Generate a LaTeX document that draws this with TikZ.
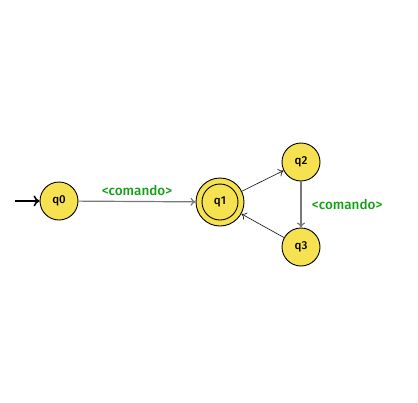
\documentclass[tikz,border=0pt]{standalone}
\usepackage{fontspec}
\setmainfont{Fira Sans}[UprightFont=* Medium]
\usetikzlibrary{arrows.meta}
\definecolor{stfill}{RGB}{246,226,80}
\definecolor{lblgreen}{RGB}{20,160,20}
\definecolor{edgegray}{RGB}{120,120,120}
\tikzset{
  state/.style={circle,draw=black,fill=stfill,line width=0.9pt,minimum size=38pt,inner sep=0pt,font=\fontsize{11.5}{13}\selectfont},
  gedge/.style={draw=edgegray,line width=1.2pt,-{To[length=5pt,width=8pt]}},
  tedge/.style={draw=black!85,line width=0.7pt,-{To[length=5pt,width=8pt]}},
  lbl/.style={text=lblgreen,font=\fontsize{13.5}{15}\selectfont}
}
\begin{document}
\begin{tikzpicture}[x=1pt,y=-1pt]
\useasboundingbox (0,0) rectangle (418,402);
\node[state] (q0) at (59,201) {q0};
\node[circle,draw=black,fill=stfill,line width=0.9pt,minimum size=48pt,inner sep=0pt] (q1) at (220,202) {};
\node[circle,draw=black,line width=0.9pt,minimum size=36pt,inner sep=0pt,font=\fontsize{11.5}{13}\selectfont] (q1i) at (220,202) {q1};
\node[state] (q2) at (301,162) {q2};
\node[state] (q3) at (301,247) {q3};
\coordinate (start) at (15,201);
\draw[line width=1.6pt,-{To[length=6pt,width=11pt]}] (start) -- (q0);
\draw[gedge] (q0) -- (q1) node[lbl,midway,above=2pt] {<comando>};
\draw[tedge] (q1) -- (q2);
\draw[gedge] (q2) -- (q3) node[lbl,midway,right=7pt] {<comando>};
\draw[tedge] (q3) -- (q1);
\end{tikzpicture}
\end{document}
